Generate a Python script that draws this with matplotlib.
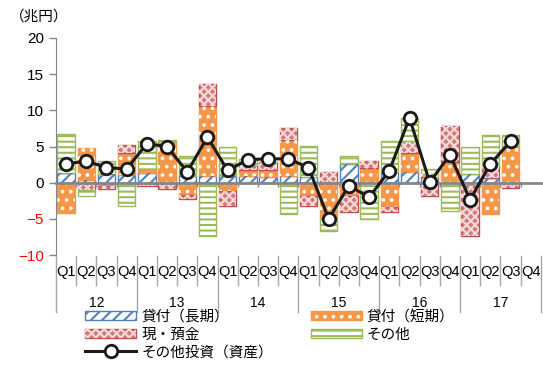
import numpy as np
import matplotlib
matplotlib.use("Agg")
import matplotlib.pyplot as plt
from matplotlib.patches import Patch
from matplotlib.lines import Line2D
from matplotlib.legend_handler import HandlerTuple
from matplotlib.transforms import blended_transform_factory

plt.rcParams['font.family'] = ['Liberation Sans', 'Noto Sans CJK JP', 'DejaVu Sans']
plt.rcParams['hatch.linewidth'] = 1.5

quarters = ["Q1", "Q2", "Q3", "Q4"]
years = ["12", "13", "14", "15", "16", "17"]
series_names = ["貸付（長期）", "貸付（短期）", "現・預金", "その他"]
line_name = "その他投資（資産）"

loan_long = [1.35, 0.4, 1.2, 1.1, 1.35, 0.0, 1.0, 1.0, 1.0, 0.9, 0.75, 1.0,
             0.8, 0.0, 2.6, 0.0, 1.45, 1.55, 0.85, 0.0, 1.25, 0.7, 0.0, np.nan]
loan_short = [-4.2, 4.4, -0.5, 3.0, 0.55, 5.6, -1.75, 9.55, -1.2, 0.9, 1.05, 4.95,
              -1.9, -4.9, -1.9, 2.0, -3.4, 2.55, 0.4, 2.9, -0.5, -4.3, 5.1, np.nan]
cash_dep = [0.0, -1.0, -0.4, 1.05, -0.4, -0.9, -0.45, 3.1, -1.95, 0.7, 1.1, 1.6,
            -1.3, 1.55, -2.2, 0.95, -0.65, 1.5, -1.9, 4.9, -6.9, 1.6, -0.7, np.nan]
other = [5.4, -0.8, 1.75, -3.2, 3.9, 0.3, 2.65, -7.4, 3.9, 0.8, 0.0, -4.35,
         4.3, -1.75, 1.05, -5.0, 4.25, 3.4, 0.6, -3.9, 3.75, 4.3, 1.5, np.nan]
total = [2.6, 3.0, 2.1, 1.9, 5.4, 5.0, 1.5, 6.3, 1.7, 3.2, 3.3, 3.3,
         2.1, -5.0, -0.4, -2.0, 1.65, 8.95, 0.05, 3.85, -2.35, 2.6, 5.7, np.nan]

# (face, edge, hatch, hatch colour)
styles = [
    ("white", "#4F81BD", "///", "#4F81BD"),
    ("#F79646", "#F79646", "..", "white"),
    ("#D47C79", "#C0504D", "xxxx", "#F4DADA"),
    ("white", "#9BBB59", "---", "#9BBB59"),
]

fig = plt.figure(figsize=(5.43, 3.65), dpi=100)
ax = fig.add_axes([0.103, 0.301, 0.893, 0.595])

n = len(total)
x = np.arange(n)
width = 0.86
pos = np.zeros(n)
neg = np.zeros(n)
handles = []
for vals, (fc, ec, hatch, hc) in zip([loan_long, loan_short, cash_dep, other], styles):
    v = np.array(vals, dtype=float)
    bottom = np.where(v >= 0, pos, neg)
    ax.bar(x, v, width, bottom=bottom, color=fc, edgecolor=ec, linewidth=1, zorder=1)
    ax.bar(x, v, width, bottom=bottom, fill=False, hatch=hatch, edgecolor=hc,
           linewidth=0, zorder=1.1)
    pos = np.where(v >= 0, pos + v, pos)
    neg = np.where(v < 0, neg + v, neg)
    handles.append((Patch(facecolor=fc, edgecolor=ec, linewidth=1),
                    Patch(fill=False, hatch=hatch, edgecolor=hc, linewidth=0)))

ax.plot(x, total, color="#1a1a1a", lw=2.2, marker="o", markersize=9,
        markerfacecolor="white", markeredgecolor="#1a1a1a", markeredgewidth=2, zorder=5)
line_handle = Line2D([], [], color="#1a1a1a", lw=2.2, marker="o", markersize=9,
                     markerfacecolor="white", markeredgewidth=2)

ax.set_xlim(-0.5, n - 0.5)
ax.set_ylim(-10, 20)
ax.set_yticks(np.arange(-10, 21, 5))
ax.tick_params(axis="y", colors="#868686", labelsize=11, length=5, width=1)
for lab, val in zip(ax.get_yticklabels(), np.arange(-10, 21, 5)):
    lab.set_color("red" if val < 0 else "black")

ax.spines[["top", "right"]].set_visible(False)
ax.spines["left"].set_color("#868686")
ax.spines["bottom"].set_position(("data", 0))
ax.spines["bottom"].set_color("#868686")
ax.spines["bottom"].set_linewidth(2)
ax.spines["bottom"].set_zorder(3)
ax.set_xticks(np.arange(0.5, n - 0.5, 1))
ax.tick_params(axis="x", colors="#868686", length=3, width=1, labelbottom=False)

# category labels below the plot
tr = blended_transform_factory(ax.transData, fig.transFigure)
for i in range(n):
    ax.text(i, 1 - 272 / 365, quarters[i % 4], transform=tr, ha="center", va="center",
            fontsize=10.5, clip_on=False)
for j, yr in enumerate(years):
    ax.text(4 * j + 1.5, 1 - 303 / 365, yr, transform=tr, ha="center", va="center",
            fontsize=10, clip_on=False)
for b in range(n + 1):
    y_end = 312 if b % 4 == 0 else 285
    ax.plot([b - 0.5, b - 0.5], [1 - 256 / 365, 1 - y_end / 365], transform=tr,
            color="#A6A6A6", lw=1, clip_on=False)

fig.text(0.072, 1 - 17 / 365, "（兆円）", ha="center", va="center", fontsize=10.5,
         family=["Noto Sans CJK JP", "DejaVu Sans"])

leg_handles = [handles[0], handles[2], line_handle, handles[1], handles[3]]
leg_labels = [series_names[0], series_names[2], line_name, series_names[1], series_names[3]]
fig.legend(leg_handles, leg_labels, ncol=2, loc="upper left",
           bbox_to_anchor=(85 / 543, 1 - 310 / 365), frameon=False,
           borderpad=0, borderaxespad=0, handlelength=3.5, handleheight=0.6,
           handletextpad=0.35, labelspacing=0.25, columnspacing=2.6,
           prop={"family": ["Noto Sans CJK JP", "DejaVu Sans"], "size": 10.5},
           handler_map={tuple: HandlerTuple(ndivide=1, pad=0)})

fig.savefig("out.png", dpi=100)
